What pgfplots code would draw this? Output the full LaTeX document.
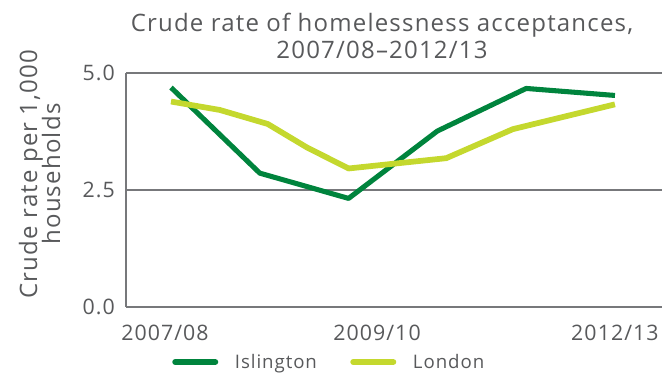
\documentclass[border=0pt]{standalone}
\usepackage{fontspec}
\setmainfont[LetterSpace=5]{Open Sans}
\usepackage{pgfplots}
\pgfplotsset{compat=1.18}
\definecolor{isl}{HTML}{00843D}
\definecolor{lon}{HTML}{C4D82E}
\definecolor{txt}{HTML}{58595B}
\definecolor{gridc}{HTML}{77787B}
\begin{document}
\begin{tikzpicture}
\path[use as bounding box] (0,0) rectangle (496.5pt,283.5pt);
\begin{axis}[
  at={(94.5pt,53.25pt)}, anchor=south west,
  scale only axis, width=402pt, height=175.5pt,
  xmin=-0.507, xmax=5.53, ymin=0, ymax=5,
  axis lines*=left,
  axis line style={gridc, line width=1.5pt, -},
  ymajorgrids, grid style={gridc, line width=1.5pt},
  major tick length=0pt,
  ytick={0,2.5,5}, yticklabels={0.0,2.5,5.0},
  xtick={-0.068,2.32,5}, xticklabels={2007/08,2009/10,2012/13},
  tick label style={font=\fontsize{16}{19}\selectfont, text=txt},
  yticklabel style={anchor=east, inner sep=0pt, xshift=-8.25pt},
  xticklabel style={anchor=base, inner sep=0pt, yshift=-25.5pt},
  clip=false,
  legend columns=2,
  legend style={at={(0.0858,-0.235)}, anchor=west, draw=none, fill=none,
    inner sep=0pt, font=\fontsize{14}{17}\selectfont, text=txt,
    /tikz/every odd column/.append style={column sep=10.5pt},
    /tikz/every even column/.append style={column sep=23pt}},
  legend image code/.code={\draw[#1, line width=4.5pt, line cap=round] (2.25pt,0pt) -- (32.25pt,0pt);},
]
\addplot[isl, line width=3.8pt, line join=round] coordinates {
  (0,4.69) (1,2.86) (2,2.32) (3,3.76) (4,4.67) (5,4.52)};
\addlegendentry{Islington}
\addplot[lon, line width=4.3pt, line join=round] coordinates {
  (0,4.39) (0.55,4.21) (1.09,3.91) (1.53,3.41) (2,2.96) (3.10,3.18) (3.85,3.80) (5,4.33)};
\addlegendentry{London}
\end{axis}
\node[anchor=base, text=txt, font=\fontsize{18}{22}\selectfont] at (286.5pt,259.5pt) {Crude rate of homelessness acceptances,};
\node[anchor=base, text=txt, font=\fontsize{18}{22}\selectfont] at (286.5pt,239.25pt) {2007/08--2012/13};
\node[anchor=base, rotate=90, text=txt, font=\fontsize{18}{22}\selectfont] at (27.75pt,153pt) {Crude rate per 1,000};
\node[anchor=base, rotate=90, text=txt, font=\fontsize{18}{22}\selectfont] at (45pt,153pt) {households};
\end{tikzpicture}
\end{document}
